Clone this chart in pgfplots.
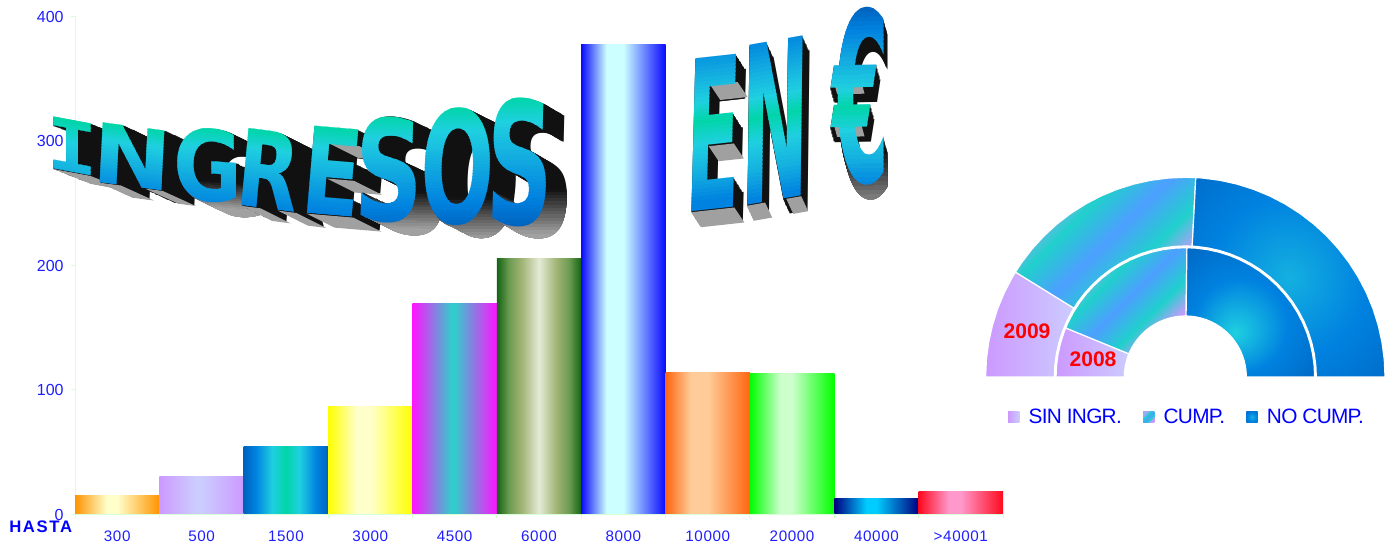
\documentclass[border=0pt]{standalone}
\usepackage{fontspec}
\usepackage{pgfplots}
\pgfplotsset{compat=1.18}
\setmainfont{Liberation Sans}
\newfontfamily\xtickfont{Liberation Sans}[LetterSpace=4]
\newfontfamily\legfont{Liberation Sans}[LetterSpace=-3.5]
\newfontfamily\hastafont{Liberation Sans}[LetterSpace=10]
\newfontfamily\waF{DejaVu Sans}
\newfontfamily\waM{Liberation Mono}
\newcommand\wa{\waF\bfseries\fontsize{60}{60}\selectfont}
\newcommand\wam{\waM\bfseries\fontsize{60}{60}\selectfont}
\newsavebox\wabox

\definecolor{tickblue}{HTML}{1E1EFF}
\definecolor{axisgreen}{HTML}{D5FFD5}
\definecolor{sideblack}{HTML}{111111}
\definecolor{sidegrey}{HTML}{A0A0A0}

% bar shadings, edge colour to centre colour
\newcommand\barshade[4]{%
  \definecolor{#1e}{HTML}{#2}\definecolor{#1m}{HTML}{#3}%
  \pgfdeclarehorizontalshading{#1}{100bp}{color(0bp)=(#1e);color(25bp)=(#1e);color(#4bp)=(#1m);color(50bp)=(#1m);color(75bp)=(#1e);color(100bp)=(#1e)}}
\barshade{s300}{FF9400}{FFFFCC}{44}
\barshade{s500}{CC99FF}{CCCCFF}{46}
\barshade{s3000}{FFFF00}{FFFFCC}{42}
\barshade{s4500}{FF14FF}{33CCCC}{48}
\barshade{s8000}{0A0AFF}{CCFFFF}{40}
\barshade{s10000}{FF6610}{FFCC99}{40}
\barshade{s20000}{00FF00}{CCFFCC}{43}
\barshade{s40000}{000080}{00CCFF}{44}
\barshade{s40001}{FF0A1E}{FF99CC}{43}
\definecolor{a1}{HTML}{0062BE}\definecolor{a2}{HTML}{0082E0}\definecolor{a3}{HTML}{1FD0E0}\definecolor{a4}{HTML}{00D5A8}
\pgfdeclarehorizontalshading{s1500}{100bp}{color(0bp)=(a1);color(25bp)=(a1);color(32bp)=(a2);color(42bp)=(a3);color(50bp)=(a4);color(58bp)=(a3);color(68bp)=(a2);color(75bp)=(a1);color(100bp)=(a1)}
\definecolor{g1}{HTML}{146414}\definecolor{g2}{HTML}{6A9A50}\definecolor{g3}{HTML}{A3B577}\definecolor{g4}{HTML}{E4EBD7}
\pgfdeclarehorizontalshading{s6000}{100bp}{color(0bp)=(g1);color(25bp)=(g1);color(32bp)=(g2);color(40bp)=(g3);color(50bp)=(g4);color(60bp)=(g3);color(68bp)=(g2);color(75bp)=(g1);color(100bp)=(g1)}

% ring shadings
\definecolor{viol}{HTML}{CC99FF}\definecolor{violl}{HTML}{CCCCFF}\definecolor{violb}{HTML}{A0A8F8}
\definecolor{cteal}{HTML}{20D0CC}\definecolor{cblue}{HTML}{4D9FFF}\definecolor{cb3}{HTML}{14B0E0}
\pgfdeclarehorizontalshading{ssin}{100bp}{color(0bp)=(viol);color(25bp)=(viol);color(75bp)=(violl);color(100bp)=(violl)}
\pgfdeclarehorizontalshading{scump}{100bp}{color(0bp)=(violb);color(28bp)=(violb);color(38bp)=(cteal);color(50bp)=(cblue);color(62bp)=(cteal);color(72bp)=(viol);color(100bp)=(viol)}
\pgfdeclareradialshading{snocump}{\pgfpoint{0bp}{0bp}}{color(0bp)=(cb3);color(20bp)=(a2);color(44bp)=(a1);color(50bp)=(a1)}
\pgfdeclareradialshading{snocumpin}{\pgfpoint{-6bp}{-8bp}}{color(0bp)=(a3);color(18bp)=(a2);color(40bp)=(a1);color(50bp)=(a1)}

% word art: one letter, positioned by three corners of its box, in pixels of the picture
\def\seg#1#2#3#4{\ifdim\bt pt<#3pt\ifdim\bt pt<#1pt\else\pgfmathsetmacro\pp{100*(\bt-#1)/(#3-#1)}\colorlet{bandc}{#4!\pp!#2}\fi\fi}
\newcommand\setband[1]{%
  \pgfmathsetmacro\bt{min(0.999,max(0,#1))}%
  \seg{0}{a1}{0.12}{a2}\seg{0.12}{a2}{0.3}{cb3}\seg{0.3}{cb3}{0.43}{a3}\seg{0.43}{a3}{0.53}{a4}%
  \seg{0.53}{a4}{0.65}{a3}\seg{0.65}{a3}{0.8}{cb3}\seg{0.8}{cb3}{0.95}{a2}\seg{0.95}{a2}{1}{a2}}
\def\wageo#1,#2,#3,#4,#5,#6,#7,#8;{\def\wBx{#1}\def\wBy{#2}\def\wRx{#3}\def\wRy{#4}\def\wTx{#5}\def\wTy{#6}\def\wDX{#7}\def\wDY{#8}}
% measured before the picture, where fonts still work
\newcommand\WAmeasure[5]{%
  \sbox\wabox{#1}%
  \expandafter\xdef\csname wW\detokenize{#1}\endcsname{\the\wd\wabox}%
  \expandafter\xdef\csname wH\detokenize{#1}\endcsname{\the\ht\wabox}%
  \expandafter\xdef\csname wD\detokenize{#1}\endcsname{\the\dp\wabox}}
\newcommand\WAinit[2]{%
  \wageo#2;%
  \pgfmathsetmacro\WW{\csname wW\detokenize{#1}\endcsname}%
  \pgfmathsetmacro\DD{\csname wD\detokenize{#1}\endcsname}%
  \pgfmathsetmacro\HH{\csname wH\detokenize{#1}\endcsname+\DD}%
  \pgfmathsetmacro\ca{0.75*(\wRx-\wBx)/\WW}\pgfmathsetmacro\cb{-0.75*(\wRy-\wBy)/\WW}%
  \pgfmathsetmacro\cc{0.75*(\wTx-\wBx)/\HH}\pgfmathsetmacro\cd{-0.75*(\wTy-\wBy)/\HH}%
  \pgfmathtruncatemacro\nn{1+veclen(\wDX,\wDY)}}
\newcommand\WP[2]{({\wBx+(#1)*(\wRx-\wBx)+(#2)*(\wTx-\wBx)},{\wBy+(#1)*(\wRy-\wBy)+(#2)*(\wTy-\wBy)})}
\newcommand\WQ[2]{({\wDX+\wBx+(#1)*(\wRx-\wBx)+(#2)*(\wTx-\wBx)},{\wDY+\wBy+(#1)*(\wRy-\wBy)+(#2)*(\wTy-\wBy)})}
\newcommand\WAglyph[4]{%
  \begin{scope}[shift={({\wBx+#3},{\wBy+#4})},cm={\ca,\cb,\cc,\cd,(0pt,0pt)}]
    \node[transform shape,inner sep=0pt,outer sep=0pt,anchor=base west,text=#2] at (0pt,\DD pt) {#1};
  \end{scope}}
\newcommand\WAsweep[2]{\foreach \k in {1,...,\nn}{\WAglyph{#1}{#2}{\wDX*\k/\nn}{\wDY*\k/\nn}}}
% sides: glyph, geometry, colour range, flat undersides u0/u1/v, height where round letters start to turn grey
\newcommand\WAside[5]{%
  \WAinit{#1}{#2}%
  \WAsweep{#1}{sideblack}%
  \def\tmp{#5}\ifx\tmp\empty\else
  \foreach \i in {0,...,17}{%
    \pgfmathsetmacro\v{#5-0.025*\i}\pgfmathtruncatemacro\g{min(63,8+4*\i)}%
    \begin{scope}
      \clip \WP{-0.3}{\v+0.1} -- \WP{1.7}{\v+0.1} -- \WP{1.7}{\v} -- \WP{-0.3}{\v} -- cycle;
      \WAsweep{#1}{white!\g!black}
    \end{scope}}\fi
  \def\tmp{#4}\ifx\tmp\empty\else
  \foreach \ua/\ub/\v in {#4}{%
    \fill[sidegrey] \WP{\ua}{\v} -- \WP{\ub}{\v} -- \WQ{\ub}{\v} -- \WQ{\ua}{\v} -- cycle;}\fi}
% faces: horizontal bands of the colour ramp
\newcommand\WAfront[5]{%
  \WAinit{#1}{#2}%
  \def\wrange##1,##2;{\def\tTop{##1}\def\tBot{##2}}\wrange#3;%
  \foreach \i in {0,...,47}{%
    \pgfmathsetmacro\va{1.1-1.2*\i/48}\pgfmathsetmacro\vb{1.1-1.2*(\i+1.3)/48}%
    \setband{\tTop+(\tBot-\tTop)*(1-(\va+\vb)/2)}%
    \begin{scope}
      \clip \WP{-0.1}{\va} -- \WP{1.1}{\va} -- \WP{1.1}{\vb} -- \WP{-0.1}{\vb} -- cycle;
      \WAglyph{#1}{bandc}{0}{0}
    \end{scope}}}
\newcommand\allletters[1]{%
  #1{\wam I}{47,167.8,97,177.2,47,116,38,15;}{0.53,0.3}{0.13/0.87/0}{}%
  #1{\wa N}{91.7,181.7,170.7,192,94.7,122,33,15;}{0.53,0.17}{0.1/0.37/0,0.68/0.9/0}{}%
  #1{\wa G}{173.4,200,242.6,205,173.4,126,31,15;}{0.53,0.14}{}{0.2}%
  #1{\wa R}{234.8,205,296.3,213,242,128,30,15;}{0.53,0.12}{0.12/0.42/0,0.7/1/0}{}%
  #1{\wa E}{299,213,358,218,306.5,126,28,14;}{0.53,0.1}{0.13/0.92/0,0.42/0.88/0.42,0.42/0.92/0.82}{}%
  #1{\wa S}{353.7,222,422.3,223,357,116,27,13;}{0.53,0.05}{}{0.2}%
  #1{\wa O}{419.3,226,493,226,422.3,108,26,13;}{0.53,0.02}{}{0.15}%
  #1{\wa S}{485.3,227,552,227,488.3,98,21,12;}{0.53,0}{}{0.2}%
  #1{\wa E}{684,213,738.7,207,688,60,10,15;}{0.2,1}{0.13/0.92/0,0.42/0.88/0.42,0.42/0.92/0.82}{}%
  #1{\wa N}{740,207,808,195,742,47,7,15;}{0.15,0.97}{0.1/0.37/0,0.68/0.9/0}{}%
  #1{\wa €}{832,186,889,185,832,8,4,15;}{0,0.94}{0.02/0.5/0.36,0.02/0.5/0.6}{0.1}%
}

\begin{document}
\allletters\WAmeasure%
\begin{tikzpicture}
\path[use as bounding box] (0,0) rectangle (1044.75pt,406.5pt);

\begin{axis}[
  at={(56.25pt,21pt)}, anchor=south west,
  scale only axis, width=696pt, height=373.5pt,
  xmin=0, xmax=11, ymin=0, ymax=400,
  axis x line=bottom, axis y line=left,
  axis line style={axisgreen,-,line width=0.7pt},
  tick style={axisgreen,line width=0.7pt},
  tick align=outside,
  major tick length=3pt, minor tick length=3pt,
  xtick={0.5,1.5,2.5,3.5,4.5,5.5,6.5,7.5,8.5,9.5,10.5},
  xticklabels={300,500,1500,3000,4500,6000,8000,10000,20000,40000,{>40001}},
  minor xtick={0,1,2,3,4,5,6,7,8,9,10,11},
  x tick style={draw=none}, minor x tick style={axisgreen,draw=axisgreen},
  ytick={0,100,200,300,400},
  /pgf/number format/assume math mode=true,
  xticklabel style={font=\xtickfont\fontsize{11.4}{12}\selectfont,text=tickblue,yshift=-6.5pt},
  yticklabel style={font=\fontsize{12}{12}\selectfont,text=tickblue,xshift=-2pt,yshift=-0.5pt},
  ybar, bar width=63.27pt, bar shift=0pt,
  every axis plot/.append style={draw=none},
]
\addplot[shading=s300] coordinates {(0.5,14.5)};
\addplot[shading=s500] coordinates {(1.5,30.5)};
\addplot[shading=s1500] coordinates {(2.5,54.6)};
\addplot[shading=s3000] coordinates {(3.5,86.7)};
\addplot[shading=s4500] coordinates {(4.5,168.7)};
\addplot[shading=s6000] coordinates {(5.5,205.6)};
\addplot[shading=s8000] coordinates {(6.5,377.5)};
\addplot[shading=s10000] coordinates {(7.5,114)};
\addplot[shading=s20000] coordinates {(8.5,112.5)};
\addplot[shading=s40000] coordinates {(9.5,12.8)};
\addplot[shading=s40001] coordinates {(10.5,17.7)};
\end{axis}

% half doughnut, inner ring 2008, outer ring 2009
\begin{axis}[
  at={(739pt,123.75pt)}, anchor=south west,
  scale only axis, width=300pt, height=150pt,
  xmin=-200, xmax=200, ymin=0, ymax=200,
  hide axis, clip=false,
  legend columns=3,
  legend style={at={(0.505,-0.2)},anchor=center,draw=none,fill=none,
    font=\legfont\fontsize{15.6}{16}\selectfont,text=blue,
    /tikz/every odd column/.append style={column sep=5pt},
    /tikz/every even column/.append style={column sep=14pt}},
  legend image code/.code={\fill[#1,draw=none] (0pt,-4.1pt) rectangle (8.4pt,4.1pt);},
  every axis plot/.append style={data cs=polar,draw=white,line width=0.9pt,mark=none},
]
\addplot[shading=ssin] coordinates {(180,199.7)(175,199.7)(170,199.7)(165,199.7)(160,199.7)(155,199.7)(150,199.7)(148.3,199.7)
  (148.3,131)(150,131)(155,131)(160,131)(165,131)(170,131)(175,131)(180,131)} -- cycle;
\addlegendentry{SIN INGR.}
\addplot[shading=scump,shading angle=-45] coordinates {(148.3,199.7)(145,199.7)(140,199.7)(135,199.7)(130,199.7)(125,199.7)(120,199.7)(115,199.7)(110,199.7)(105,199.7)(100,199.7)(95,199.7)(90,199.7)(87,199.7)
  (87,131)(90,131)(95,131)(100,131)(105,131)(110,131)(115,131)(120,131)(125,131)(130,131)(135,131)(140,131)(145,131)(148.3,131)} -- cycle;
\addlegendentry{CUMP.}
\addplot[shading=snocump] coordinates {(87,199.7)(85,199.7)(80,199.7)(75,199.7)(70,199.7)(65,199.7)(60,199.7)(55,199.7)(50,199.7)(45,199.7)(40,199.7)(35,199.7)(30,199.7)(25,199.7)(20,199.7)(15,199.7)(10,199.7)(5,199.7)(0,199.7)
  (0,131)(5,131)(10,131)(15,131)(20,131)(25,131)(30,131)(35,131)(40,131)(45,131)(50,131)(55,131)(60,131)(65,131)(70,131)(75,131)(80,131)(85,131)(87,131)} -- cycle;
\addlegendentry{NO CUMP.}
\addplot[forget plot,shading=ssin] coordinates {(180,129.3)(175,129.3)(170,129.3)(165,129.3)(160,129.3)(157.7,129.3)
  (157.7,61)(160,61)(165,61)(170,61)(175,61)(180,61)} -- cycle;
\addplot[forget plot,shading=scump,shading angle=-45] coordinates {(157.7,129.3)(155,129.3)(150,129.3)(145,129.3)(140,129.3)(135,129.3)(130,129.3)(125,129.3)(120,129.3)(115,129.3)(110,129.3)(105,129.3)(100,129.3)(95,129.3)(90,129.3)(89.3,129.3)
  (89.3,61)(90,61)(95,61)(100,61)(105,61)(110,61)(115,61)(120,61)(125,61)(130,61)(135,61)(140,61)(145,61)(150,61)(155,61)(157.7,61)} -- cycle;
\addplot[forget plot,shading=snocumpin] coordinates {(89.3,129.3)(85,129.3)(80,129.3)(75,129.3)(70,129.3)(65,129.3)(60,129.3)(55,129.3)(50,129.3)(45,129.3)(40,129.3)(35,129.3)(30,129.3)(25,129.3)(20,129.3)(15,129.3)(10,129.3)(5,129.3)(0,129.3)
  (0,61)(5,61)(10,61)(15,61)(20,61)(25,61)(30,61)(35,61)(40,61)(45,61)(50,61)(55,61)(60,61)(65,61)(70,61)(75,61)(80,61)(85,61)(89.3,61)} -- cycle;
\end{axis}

\begin{scope}[x=0.75pt,y=-0.75pt,yshift=406.5pt]
\node[text=red,font=\bfseries\fontsize{15.8}{16}\selectfont,inner sep=0pt] at (1027,331) {2009};
\node[text=red,font=\bfseries\fontsize{15.8}{16}\selectfont,inner sep=0pt] at (1093,359) {2008};
\node[text=blue,font=\hastafont\bfseries\fontsize{12.5}{13}\selectfont,inner sep=0pt,anchor=west] at (9,527) {HASTA};
\allletters\WAside
\allletters\WAfront
\end{scope}
\end{tikzpicture}
\end{document}
